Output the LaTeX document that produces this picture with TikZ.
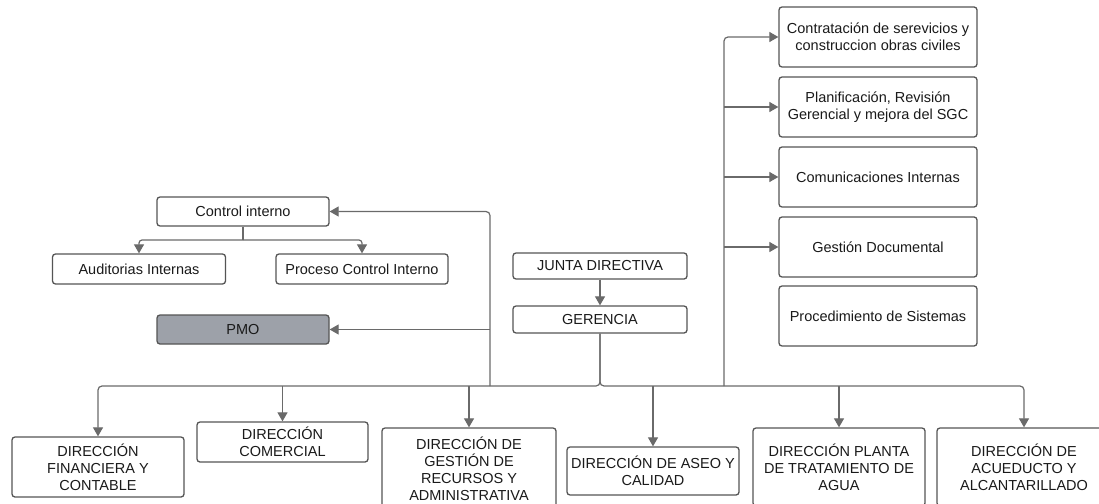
\documentclass[tikz,border=0pt]{standalone}
\usepackage{fontspec}
\setmainfont{Liberation Sans}
\usetikzlibrary{arrows.meta}
\definecolor{linec}{HTML}{6A6A6A}
\definecolor{boxc}{HTML}{555555}
\definecolor{pmoc}{HTML}{9DA1A9}
\definecolor{txtc}{HTML}{1A1A1A}
\begin{document}
\begin{tikzpicture}[x=1pt,y=-1pt,
  box/.style={draw=boxc,line width=1.3pt,rounded corners=3pt,inner sep=0pt,align=center,text=txtc,
    font=\fontsize{14.5}{17}\selectfont},
  bbox/.style={box,font=\fontsize{14.5}{17}\selectfont},
  conn/.style={draw=linec,line width=1.2pt},
  arr/.style={conn,-{Triangle[width=10pt,length=9pt]}}]
\useasboundingbox (0,0) rectangle (1099,503);
\fill[white] (0,0) rectangle (1099,503);
\clip (0,0) rectangle (1099,503);
% left group
\node[box,minimum width=172,minimum height=29] (ci) at (243,211.5) {Control interno};
\node[box,minimum width=173,minimum height=30] (aud) at (139,269) {Auditorias Internas};
\node[box,minimum width=172,minimum height=30] (pci) at (362,269) {Proceso Control Interno};
\node[box,fill=pmoc,minimum width=172,minimum height=29] (pmo) at (243,329.5) {PMO};
% centre
\node[box,minimum width=174,minimum height=26] (jd) at (600,266) {JUNTA DIRECTIVA};
\node[box,minimum width=174,minimum height=27] (ger) at (600,319.5) {GERENCIA};
% right column
\node[box,minimum width=198,minimum height=60] (r1) at (878,37) {Contratación de serevicios y\\construccion obras civiles};
\node[box,minimum width=198,minimum height=60] (r2) at (878,107) {Planificación, Revisión\\Gerencial y mejora del SGC};
\node[box,minimum width=198,minimum height=60] (r3) at (878,177) {Comunicaciones Internas};
\node[box,minimum width=198,minimum height=60] (r4) at (878,247) {Gestión Documental};
\node[box,minimum width=198,minimum height=60] (r5) at (878,316) {Procedimiento de Sistemas};
% bottom row
\node[bbox,minimum width=172,minimum height=60] (b1) at (98,467) {DIRECCIÓN\\FINANCIERA Y\\CONTABLE};
\node[bbox,minimum width=171,minimum height=40] (b2) at (282.5,442) {DIRECCIÓN\\COMERCIAL};
\node[bbox,minimum width=174,minimum height=82] (b3) at (469,469) {DIRECCIÓN DE\\GESTIÓN DE\\RECURSOS Y\\ADMINISTRATIVA};
\node[bbox,minimum width=172,minimum height=48] (b4) at (653,471) {DIRECCIÓN DE ASEO Y\\CALIDAD};
\node[bbox,minimum width=172,minimum height=78] (b5) at (839,467) {DIRECCIÓN PLANTA\\DE TRATAMIENTO DE\\AGUA};
\node[bbox,minimum width=174,minimum height=78] (b6) at (1024,467) {DIRECCIÓN DE\\ACUEDUCTO Y\\ALCANTARILLADO};
% junction coordinates
\coordinate (bus) at (600,386);
\coordinate (lv) at (490,386);
\coordinate (rv) at (724,386);
\coordinate (cij) at (243,240);
% connectors
\draw[arr] (jd) -- (ger);
\draw[arr,rounded corners=4pt] (ger.south) -- (bus) -| (b1.north);
\draw[arr,rounded corners=4pt] (ger.south) -- (bus) -| (b6.north);
\draw[arr] (b2.north |- bus) -- (b2.north);
\draw[arr] (b3.north |- bus) -- (b3.north);
\draw[arr] (b4.north |- bus) -- (b4.north);
\draw[arr] (b5.north |- bus) -- (b5.north);
\draw[arr,rounded corners=4pt] (lv) |- (ci.east);
\draw[arr] (lv |- pmo.east) -- (pmo.east);
\draw[arr,rounded corners=4pt] (rv) |- (r1.west);
\draw[arr] (rv |- r2.west) -- (r2.west);
\draw[arr] (rv |- r3.west) -- (r3.west);
\draw[arr] (rv |- r4.west) -- (r4.west);
\draw[conn] (ci.south) -- (cij);
\draw[arr,rounded corners=3pt] (cij) -| (aud.north);
\draw[arr,rounded corners=3pt] (cij) -| (pci.north);
\end{tikzpicture}
\end{document}
